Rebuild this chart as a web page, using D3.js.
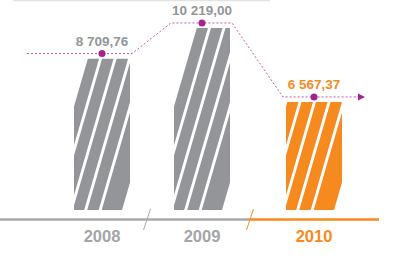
<!DOCTYPE html>
<html>
<head>
<meta charset="utf-8">
<script src="https://cdn.jsdelivr.net/npm/d3@7"></script>
<style>
  body { margin: 0; background: #fff; }
  svg { display: block; font-family: "Liberation Sans", Arial, Helvetica, sans-serif; font-weight: bold; }
</style>
</head>
<body>
<div class="chart"></div>
<script>
const years = ["2008", "2009", "2010"];
const values = [8709.76, 10219.00, 6567.37];
const highlighted = [false, false, true];

const width = 400, height = 257;
const gray = "#949598", orange = "#f68a1f", magenta = "#a6228f";

// numbers are written the european way: "8 709,76"
const fmt = d3.formatLocale({ decimal: ",", thousands: " ", grouping: [3], currency: ["", ""] }).format(",.2f");

const x = d3.scaleOrdinal().domain(years).range([102, 202, 314]);
const y = d3.scaleLinear().domain([0, 10000]).range([235, 32.4]);
const barBottom = 210, axisY = 219.5, half = 28;
const slope = 0.29, bandW = 78;

const data = years.map((yr, i) => ({ year: yr, value: values[i], hi: highlighted[i] }));

let svg = d3.select("div.chart")
    .append("svg")
    .attr("width", width)
    .attr("height", height);

// thin rule on the top edge
svg.append("rect").attr("x", 13).attr("y", 0).attr("width", 257).attr("height", 1.2).attr("fill", "#e2e2e2");

let defs = svg.append("defs");

// each bar: a slanted band cut in 5 strips by white gaps, clipped to the bar box
const gaps = [12.7, 27.2, 41.7, 56.2];
let strips = [], s0 = 0;
gaps.forEach(c => { strips.push([s0, c - 1.5]); s0 = c + 1.5; });
strips.push([s0, bandW]);

data.forEach((d, i) => {
    let cx = x(d.year), top = y(d.value);
    let h = barBottom - top;
    let lBot = cx - 58, lTop = lBot + slope * h;

    defs.append("clipPath").attr("id", "clip" + i)
        .append("rect")
        .attr("x", cx - half).attr("y", top)
        .attr("width", half * 2).attr("height", h);

    svg.append("g")
        .attr("clip-path", `url(#clip${i})`)
        .selectAll("path")
        .data(strips)
        .enter()
        .append("path")
        .attr("d", b => `M${lTop + b[0]},${top}L${lTop + b[1]},${top}L${lBot + b[1]},${barBottom}L${lBot + b[0]},${barBottom}Z`)
        .attr("fill", d.hi ? orange : gray);
});

// axis line, gray then orange for the current year
let sep1 = (x(years[0]) + x(years[1])) / 2 - 5;
let sep2 = (x(years[1]) + x(years[2])) / 2 - 8;
svg.append("line").attr("x1", 0).attr("x2", sep2).attr("y1", axisY).attr("y2", axisY)
    .attr("stroke", "#a7a9ac").attr("stroke-width", 2.5);
svg.append("line").attr("x1", sep2).attr("x2", x(years[2]) + 65).attr("y1", axisY).attr("y2", axisY)
    .attr("stroke", orange).attr("stroke-width", 2.5);
[[sep1, "#a7a9ac"], [sep2, orange]].forEach(s => {
    svg.append("line")
        .attr("x1", s[0] + 3.5).attr("y1", axisY - 10.5)
        .attr("x2", s[0] - 3.5).attr("y2", axisY + 10.5)
        .attr("stroke", s[1]).attr("stroke-width", 1);
});

svg.selectAll("text.year")
    .data(data)
    .enter()
    .append("text")
    .attr("class", "year")
    .attr("x", d => x(d.year))
    .attr("y", 242)
    .attr("text-anchor", "middle")
    .attr("font-size", 16.5)
    .attr("fill", d => d.hi ? orange : "#a3a5a8")
    .text(d => d.year);

// dotted trend line with arrow
let ly = d => y(d.value) - 5;
let pts = [[x(years[0]) - 75, ly(data[0])]];
data.forEach(d => { pts.push([x(d.year) - 31, ly(d)]); pts.push([x(d.year) + 30, ly(d)]); });
let last = data[data.length - 1];
pts.push([x(last.year) + 46, ly(last)]);

svg.append("path")
    .attr("d", d3.line()(pts))
    .attr("fill", "none")
    .attr("stroke", "#c45aaa")
    .attr("stroke-width", 1)
    .attr("stroke-dasharray", "2,2");

let tipX = x(last.year) + 51, tipY = ly(last);
svg.append("path")
    .attr("d", `M${tipX},${tipY}L${tipX - 7},${tipY - 3.5}L${tipX - 7},${tipY + 3.5}Z`)
    .attr("fill", magenta);

svg.selectAll("circle")
    .data(data)
    .enter()
    .append("circle")
    .attr("cx", d => x(d.year))
    .attr("cy", ly)
    .attr("r", 3.5)
    .attr("fill", magenta);

svg.selectAll("text.value")
    .data(data)
    .enter()
    .append("text")
    .attr("class", "value")
    .attr("x", d => x(d.year))
    .attr("y", d => ly(d) - 7.5)
    .attr("text-anchor", "middle")
    .attr("font-size", 13.5)
    .attr("fill", d => d.hi ? orange : "#939598")
    .text(d => fmt(d.value));
</script>
</body>
</html>
